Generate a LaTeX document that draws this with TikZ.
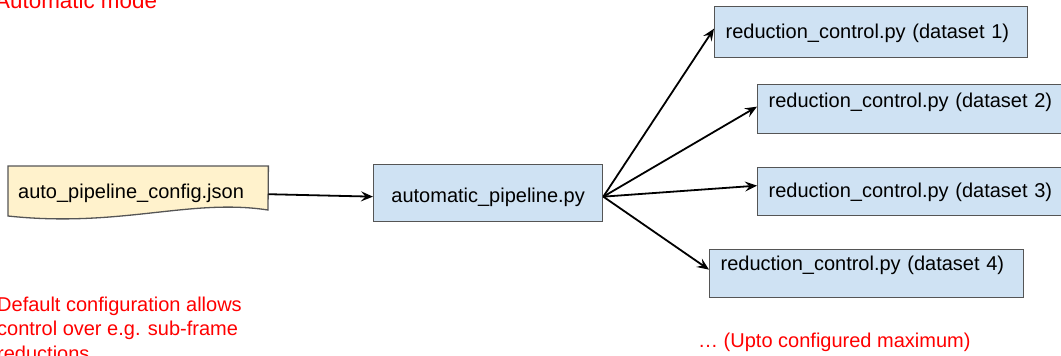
\documentclass[tikz,border=0pt]{standalone}
\usepackage{fontspec}
\setmainfont{Liberation Sans}
\usetikzlibrary{arrows.meta,backgrounds}
\definecolor{boxblue}{HTML}{CFE2F3}
\definecolor{docyellow}{HTML}{FFF2CC}
\definecolor{edgegray}{HTML}{555555}
\definecolor{notered}{HTML}{FF0000}
\begin{document}
\begin{tikzpicture}[x=1pt,y=-1pt,
  every node/.style={font=\fontsize{20}{24.5}\selectfont},
  bluebox/.style={draw=edgegray, fill=boxblue, line width=1.3pt, anchor=north west,
    inner xsep=11pt, inner ysep=0pt, align=left},
  conn/.style={line width=1.8pt, -{Stealth[length=12pt,width=10pt,inset=4.5pt]}},
  note/.style={text=notered, inner sep=0pt}
]
\useasboundingbox (0,0) rectangle (1061,356);
\clip (0,0) rectangle (1061,356);

% document shape
\node[anchor=north west, inner xsep=10pt, inner ysep=0pt, minimum width=260pt, minimum height=56pt,
  text width=240pt, align=left, text height=14pt, text depth=6pt] (doc) at (8,166) {auto\_pipeline\_config.json};
\begin{scope}[on background layer]
\draw[edgegray, fill=docyellow, line width=1.3pt] (doc.north west) -- (doc.north east) -- (268,210)
  .. controls (190,198) and (120,228) .. (8,216) -- cycle;
\end{scope}

% main script
\node[bluebox, minimum width=229pt, minimum height=57pt, text width=207pt, align=center,
  text height=19pt, text depth=0pt] (auto) at (373,164) {automatic\_pipeline.py};

% reduction boxes
\node[bluebox, minimum width=313pt, minimum height=51pt, text width=291pt,
  text height=15pt, text depth=2pt] (rc1) at (714,6) {reduction\_control.py (dataset 1)};
\node[bluebox, minimum width=320pt, minimum height=49pt, text width=298pt,
  text height=4pt, text depth=7pt] (rc2) at (757,84) {reduction\_control.py (dataset 2)};
\node[bluebox, minimum width=320pt, minimum height=48pt, text width=298pt,
  text height=15pt, text depth=3pt] (rc3) at (757,167) {reduction\_control.py (dataset 3)};
\node[bluebox, minimum width=314pt, minimum height=48pt, text width=292pt,
  text height=3pt, text depth=9pt] (rc4) at (709,249) {reduction\_control.py (dataset 4)};

% connectors
\coordinate (src) at ([yshift=-3.5pt]auto.east);
\draw[conn] (doc.east) -- ([yshift=-3.5pt]auto.west);
\draw[conn] (src) -- ([yshift=3.5pt]rc1.west);
\draw[conn] (src) -- ([yshift=2.5pt]rc2.west);
\draw[conn] (src) -- ([yshift=6pt]rc3.west);
\draw[conn] (src) -- ([yshift=4pt]rc4.west);

% notes
\node[note, anchor=base west, font=\fontsize{22.4}{26}\selectfont] (title) at (-5,9) {Automatic mode};
\node[note, anchor=north west, align=left] (defnote) at (-3,296.4)
  {Default configuration allows\\control over e.g. sub-frame\\reductions};
\node[note, anchor=base west] (maxnote) at (698,347) {… (Upto configured maximum)};
\end{tikzpicture}
\end{document}
